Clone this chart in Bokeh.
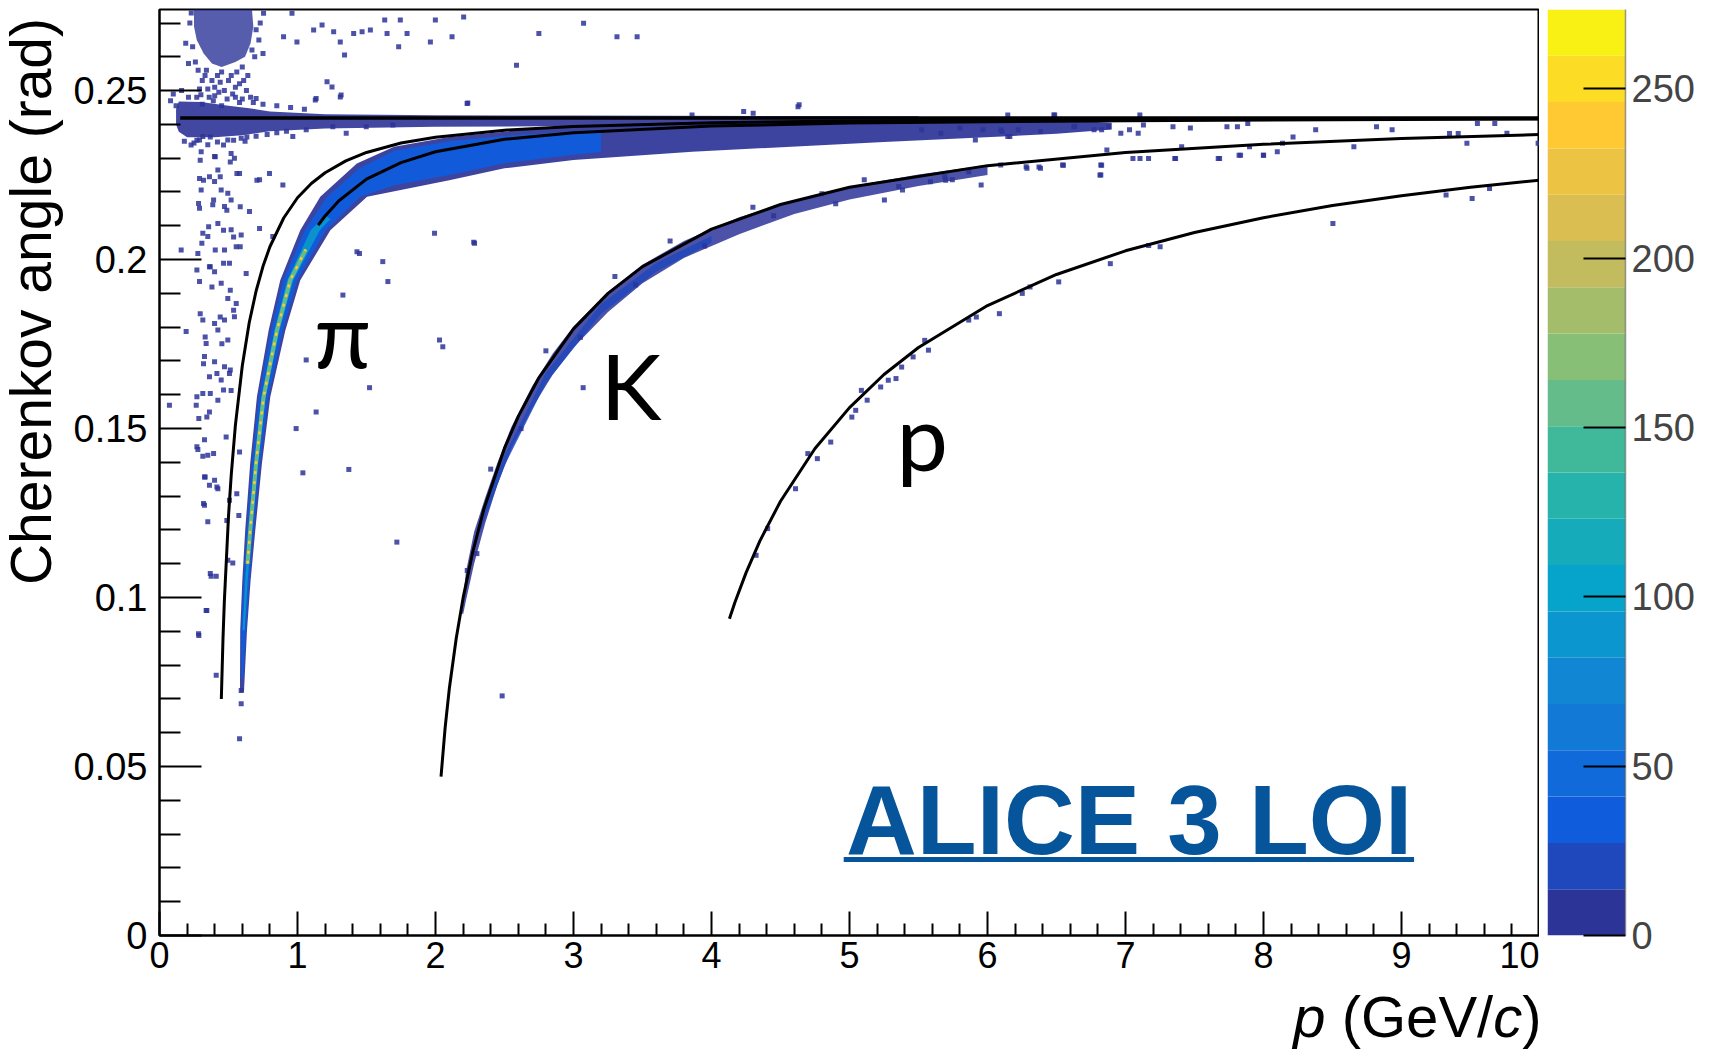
import math
from bokeh.plotting import figure
from bokeh.models import Range1d, FixedTicker
from bokeh.layouts import row, column
from bokeh.embed import file_html
from bokeh.resources import INLINE
from bokeh.core.properties import value

# ---------------- colour scale: 20 contour levels (ROOT "bird"), 0 .. 273.4 entries
cz_max = 273.4
palette = ["#2d3498", "#1e48bb", "#0f5cdd", "#116ada", "#1379d7", "#1187d3", "#0b96cf", "#06a4ca",
           "#16abba", "#26b3ab", "#40b99b", "#63bc89", "#87bf77", "#a4bd6b", "#c2bc5f", "#dabe51",
           "#ecc342", "#fec932", "#fcdc24", "#faf114"]
cz_ticks = [0, 50, 100, 150, 200, 250]

# ---------------- axes
x_major = [0, 1, 2, 3, 4, 5, 6, 7, 8, 9, 10]
x_minor = [0.2, 0.4, 0.6, 0.8, 1.2, 1.4, 1.6, 1.8, 2.2, 2.4, 2.6, 2.8, 3.2, 3.4, 3.6, 3.8,
           4.2, 4.4, 4.6, 4.8, 5.2, 5.4, 5.6, 5.8, 6.2, 6.4, 6.6, 6.8, 7.2, 7.4, 7.6, 7.8,
           8.2, 8.4, 8.6, 8.8, 9.2, 9.4, 9.6, 9.8]
y_major = [0, 0.05, 0.1, 0.15, 0.2, 0.25]
y_major_labels = ["0", "0.05", "0.1", "0.15", "0.2", "0.25"]
y_minor = [0.01, 0.02, 0.03, 0.04, 0.06, 0.07, 0.08, 0.09, 0.11, 0.12, 0.13, 0.14,
           0.16, 0.17, 0.18, 0.19, 0.21, 0.22, 0.23, 0.24, 0.26, 0.27]
x_title_parts = [("p", "italic"), ("(GeV/", "normal"), ("c", "italic"), (")", "normal")]
y_title = "Cherenkov angle (rad)"

# ---------------- expected Cherenkov-angle curves (black lines)
e_p = [0.15, 10.0]
e_theta = [0.2419, 0.2419]
mu_p = [0.448, 0.46, 0.47, 0.50, 0.52, 0.55, 0.60, 0.65, 0.70, 0.75, 0.80, 0.90, 1.0, 1.1, 1.2,
        1.35, 1.5, 1.75, 2.0, 2.5, 3.0, 4.0, 5.0, 7.0, 10.0]
mu_theta = [0.0700, 0.0877, 0.0990, 0.1241, 0.1364, 0.1510, 0.1686, 0.1813, 0.1907, 0.1980,
            0.2038, 0.2123, 0.2183, 0.2225, 0.2257, 0.2292, 0.2317, 0.2345, 0.2362, 0.2383,
            0.2394, 0.2405, 0.2410, 0.2415, 0.2417]
pi_p = [1.15, 1.2, 1.3, 1.5, 1.75, 2.0, 2.5, 3.0, 4.0, 5.0, 6.0, 7.0, 10.0]
pi_theta = [0.2102, 0.2129, 0.2174, 0.2238, 0.2287, 0.2319, 0.2356, 0.2375, 0.2395, 0.2404,
            0.2408, 0.2411, 0.2416]
k_p = [2.04, 2.07, 2.1, 2.15, 2.2, 2.27, 2.35, 2.5, 2.6, 2.75, 3.0, 3.25, 3.5, 4.0, 4.5, 5.0,
       6.0, 7.0, 8.0, 9.0, 10.0]
k_theta = [0.0470, 0.0616, 0.0730, 0.0879, 0.0999, 0.1135, 0.1261, 0.1442, 0.1536, 0.1651,
           0.1795, 0.1900, 0.1979, 0.2090, 0.2163, 0.2214, 0.2278, 0.2317, 0.2341, 0.2358, 0.2370]
pr_p = [4.13, 4.17, 4.25, 4.35, 4.5, 4.75, 5.0, 5.25, 5.5, 6.0, 6.5, 7.0, 7.5, 8.0, 8.5, 9.0,
        9.5, 10.0]
pr_theta = [0.0937, 0.0986, 0.1073, 0.1167, 0.1285, 0.1441, 0.1562, 0.1660, 0.1740, 0.1864,
            0.1956, 0.2026, 0.2080, 0.2124, 0.2160, 0.2189, 0.2214, 0.2235]

# ---------------- dense regions of the 2D histogram (outlines) + bin content
pi_outer_p = [0.583, 0.585, 0.600, 0.621, 0.657, 0.706, 0.791, 0.875, 1.020, 1.165, 1.430, 1.700,
              2.100, 2.800, 3.500, 4.500, 5.500, 6.500, 6.900,
              6.900, 6.500, 5.250, 3.860, 3.000, 2.500, 2.100, 1.504, 1.238, 1.020, 0.912, 0.803,
              0.742, 0.694, 0.660, 0.634, 0.612]
pi_outer_theta = [0.0720, 0.0903, 0.1050, 0.1199, 0.1396, 0.1594, 0.1791, 0.1939, 0.2087, 0.2186,
                  0.2284, 0.2334, 0.2363, 0.2390, 0.2403, 0.2410, 0.2413, 0.2413, 0.2405,
                  0.2385, 0.2372, 0.2348, 0.2319, 0.2295, 0.2270, 0.2235, 0.2186, 0.2087, 0.1939,
                  0.1791, 0.1594, 0.1396, 0.1199, 0.1050, 0.0903, 0.0720]
pi_outer_count = 12
pi_mid_p = [0.594, 0.5925, 0.609, 0.632, 0.670, 0.7205, 0.809, 0.897, 1.053, 1.215, 1.450, 1.700,
            2.100, 2.500, 3.000, 3.200,
            3.200, 3.000, 2.500, 2.100, 1.700, 1.454, 1.205, 0.998, 0.894, 0.7885, 0.729, 0.683,
            0.651, 0.6265, 0.606]
pi_mid_theta = [0.0760, 0.0903, 0.1050, 0.1199, 0.1396, 0.1594, 0.1791, 0.1939, 0.2087, 0.2186,
                0.2270, 0.2322, 0.2350, 0.2366, 0.2380, 0.2384,
                0.2318, 0.2310, 0.2285, 0.2250, 0.2220, 0.2186, 0.2087, 0.1939, 0.1791, 0.1594,
                0.1396, 0.1199, 0.1050, 0.0903, 0.0760]
pi_mid_count = 40
pi_core_p = [0.602, 0.621, 0.6465, 0.687, 0.740, 0.8335, 0.9255, 1.096, 1.200,
             1.240, 1.162, 0.9695, 0.8695, 0.769, 0.712, 0.6685, 0.639, 0.617]
pi_core_theta = [0.0903, 0.1050, 0.1199, 0.1396, 0.1594, 0.1791, 0.1939, 0.2087, 0.2130,
                 0.2120, 0.2087, 0.1939, 0.1791, 0.1594, 0.1396, 0.1199, 0.1050, 0.0903]
pi_core_count = 85
pi_peak_p = [0.638, 0.6575, 0.6995, 0.7545, 0.8515, 0.9475, 1.060]
pi_peak_theta = [0.1100, 0.1199, 0.1396, 0.1594, 0.1791, 0.1939, 0.2030]
pi_peak_count = 160
pi_top_count = 240

k_outer_p = [2.19, 2.22, 2.28, 2.36, 2.45, 2.55, 2.70, 2.85, 3.00, 3.25, 3.50, 3.80, 4.20, 4.60,
             5.00, 5.50, 6.00,
             6.00, 5.50, 5.00, 4.60, 4.20, 3.80, 3.50, 3.25, 3.00, 2.85, 2.70, 2.55, 2.45, 2.36,
             2.28, 2.22, 2.20]
k_outer_theta = [0.0955, 0.1075, 0.1195, 0.1295, 0.1400, 0.1505, 0.1625, 0.1722, 0.1802, 0.1905,
                 0.1985, 0.2055, 0.2125, 0.2175, 0.2216, 0.2252, 0.2280,
                 0.2250, 0.2218, 0.2178, 0.2135, 0.2075, 0.2005, 0.1930, 0.1845, 0.1740, 0.1660,
                 0.1560, 0.1440, 0.1335, 0.1220, 0.1100, 0.0990, 0.0950]
k_outer_count = 10
k_mid_p = [2.30, 2.50, 2.80, 3.20, 3.60, 4.00, 4.00, 3.60, 3.20, 2.80, 2.50, 2.32]
k_mid_theta = [0.1205, 0.1420, 0.1665, 0.1868, 0.1990, 0.2070, 0.2050, 0.1965, 0.1840, 0.1635,
               0.1390, 0.1190]
k_mid_count = 22

e_band_p = [0.12, 0.14, 0.30, 0.50, 0.65, 0.80, 1.20, 2.00, 3.00, 4.50, 5.50,
            5.50, 4.50, 3.00, 2.00, 1.20, 0.80, 0.60, 0.40, 0.20, 0.14, 0.12]
e_band_theta = [0.2445, 0.2468, 0.2466, 0.2455, 0.2448, 0.2438, 0.2430, 0.2427, 0.2426, 0.2425,
                0.2424,
                0.2405, 0.2400, 0.2395, 0.2393, 0.2388, 0.2380, 0.2368, 0.2362, 0.2362, 0.2378,
                0.2400]
e_band_count = 12

blob_p = [0.25, 0.67, 0.68, 0.66, 0.62, 0.55, 0.45, 0.38, 0.32, 0.27, 0.25]
blob_theta = [0.2740, 0.2740, 0.2690, 0.2640, 0.2600, 0.2585, 0.2570, 0.2580, 0.2610, 0.2650, 0.2690]
blob_count = 12

# ---------------- sparse bins (few entries)
dots = [
    # low-momentum column
    (0.290, 0.2354), (0.302, 0.2319), (0.399, 0.2305), (0.519, 0.2314), (0.290, 0.2240),
    (0.362, 0.2245), (0.423, 0.2265), (0.580, 0.2255), (0.399, 0.2231), (0.725, 0.2236),
    (0.797, 0.2255), (0.894, 0.2221), (0.302, 0.2206), (0.447, 0.2206), (0.495, 0.2196),
    (0.519, 0.2176), (0.290, 0.2152), (0.386, 0.2162), (0.471, 0.2157), (0.652, 0.2142),
    (0.314, 0.2078), (0.350, 0.2068), (0.423, 0.2107), (0.519, 0.2088), (0.592, 0.2073),
    (0.725, 0.2092), (0.821, 0.2068), (0.157, 0.2028), (0.278, 0.2018), (0.471, 0.2028),
    (0.556, 0.2038), (0.362, 0.1979), (0.399, 0.1964), (0.507, 0.1989), (0.628, 0.1959),
    (0.290, 0.1935), (0.447, 0.1930), (0.495, 0.1885), (0.556, 0.1870), (0.314, 0.1821),
    (0.399, 0.1811), (0.471, 0.1821), (0.543, 0.1831), (0.193, 0.1787), (0.338, 0.1752),
    (0.423, 0.1792), (0.495, 0.1762), (0.326, 0.1713), (0.399, 0.1698), (0.471, 0.1683),
    (0.362, 0.1653), (0.447, 0.1644), (0.507, 0.1663),
    (0.271, 0.2353), (0.368, 0.2363), (0.464, 0.2339), (0.537, 0.2353), (0.633, 0.2363),
    (0.295, 0.2294), (0.404, 0.2304), (0.513, 0.2289), (0.319, 0.2235), (0.440, 0.2245),
    (0.561, 0.2255), (0.706, 0.2235), (0.283, 0.2166), (0.392, 0.2176), (0.488, 0.2146),
    (0.585, 0.2156), (0.356, 0.2097), (0.464, 0.2087), (0.537, 0.2067), (0.307, 0.2048),
    (0.404, 0.2028), (0.585, 0.2038), (0.271, 0.1969), (0.368, 0.1979), (0.464, 0.1989),
    (0.380, 0.1919), (0.513, 0.1909), (0.295, 0.1840), (0.440, 0.1830), (0.537, 0.1850),
    (0.331, 0.1771), (0.452, 0.1751), (0.319, 0.1692), (0.416, 0.1663), (0.513, 0.1673),
    (0.271, 0.1594), (0.368, 0.1604), (0.464, 0.1614), (0.343, 0.1534), (0.271, 0.1446),
    (0.392, 0.1426), (0.331, 0.1357), (0.416, 0.1327), (0.319, 0.1278), (0.488, 0.1228),
    (0.368, 0.1071), (0.343, 0.0962), (0.283, 0.0893),
    (0.072, 0.1569), (0.266, 0.1569), (0.314, 0.1604), (0.362, 0.1549), (0.423, 0.1584),
    (0.519, 0.1613), (0.285, 0.1530), (0.483, 0.1475), (0.326, 0.1467), (0.278, 0.1438),
    (0.314, 0.1418), (0.350, 0.1421), (0.580, 0.1431), (0.326, 0.1357), (0.362, 0.1332),
    (0.399, 0.1347), (0.423, 0.1322), (0.560, 0.1307), (0.326, 0.1273), (0.507, 0.1288),
    (0.350, 0.1224), (0.575, 0.1243), (0.495, 0.1110), (0.531, 0.1102), (0.374, 0.1063),
    (0.411, 0.1063), (0.338, 0.0962), (0.285, 0.0888), (0.411, 0.0770),
    (0.580, 0.0582), (0.592, 0.0686), (0.592, 0.0725),
    # isolated entries in the middle
    (0.990, 0.1500), (1.135, 0.1549), (1.522, 0.1621), (1.039, 0.1369), (1.372, 0.1379),
    (1.720, 0.1164), (1.449, 0.2018), (1.618, 0.1994), (1.655, 0.1935), (1.329, 0.1895),
    (1.993, 0.2078), (2.283, 0.2048), (1.063, 0.1703), (2.029, 0.1762), (2.053, 0.1742),
    (2.277, 0.2051), (3.070, 0.1621), (2.483, 0.0709), (1.431, 0.2023),
    # above the saturation line
    (0.700, 0.2477), (1.135, 0.2477), (1.316, 0.2487), (2.234, 0.2463), (0.899, 0.2659),
    (0.996, 0.2644), (1.117, 0.2679), (1.178, 0.2694), (1.262, 0.2674), (1.310, 0.2644),
    (1.407, 0.2669), (1.468, 0.2674), (1.528, 0.2679), (1.649, 0.2669), (1.733, 0.2630),
    (1.794, 0.2669), (1.963, 0.2644), (1.999, 0.2709), (2.120, 0.2659), (2.204, 0.2718),
    (1.214, 0.2526), (1.250, 0.2511), (1.129, 0.2472), (1.310, 0.2481), (0.960, 0.2729),
    (0.754, 0.2729), (2.229, 0.2462), (1.632, 0.2709), (1.745, 0.2709), (2.749, 0.2669),
    (3.073, 0.2699), (3.315, 0.2659), (3.461, 0.2659), (2.587, 0.2575), (4.627, 0.2452),
    (1.341, 0.2605),
    # around the low-momentum blob
    (0.22, 0.2700), (0.24, 0.2630), (0.70, 0.2680), (0.72, 0.2650), (0.34, 0.2560),
    (0.42, 0.2545), (0.50, 0.2530), (0.56, 0.2555), (0.60, 0.2570), (0.47, 0.2500),
    (0.40, 0.2510), (0.31, 0.2530), (0.53, 0.2490), (0.36, 0.2480), (0.64, 0.2545),
    (0.69, 0.2600), (0.26, 0.2585), (0.45, 0.2555), (0.58, 0.2520), (0.67, 0.2620),
    (0.28, 0.2560), (0.33, 0.2545), (0.38, 0.2530), (0.44, 0.2525), (0.52, 0.2545),
    (0.61, 0.2530), (0.29, 0.2505), (0.35, 0.2505), (0.43, 0.2495), (0.55, 0.2510),
    (0.63, 0.2500), (0.27, 0.2480), (0.39, 0.2470), (0.49, 0.2475), (0.58, 0.2465),
    (0.66, 0.2480), (0.31, 0.2460), (0.45, 0.2455), (0.19, 0.2640), (0.21, 0.2580),
    (0.73, 0.2700), (0.75, 0.2610), (0.23, 0.2730),
    # around the electron line
    (0.08, 0.2470), (0.10, 0.2490), (0.12, 0.2455), (0.16, 0.2500), (0.21, 0.2480),
    (0.18, 0.2350), (0.25, 0.2345), (0.35, 0.2340), (0.42, 0.2348), (0.62, 0.2350),
    (0.70, 0.2365), (0.78, 0.2370), (0.85, 0.2375), (0.92, 0.2380), (0.60, 0.2475),
    (0.68, 0.2465), (0.75, 0.2460), (0.85, 0.2455), (0.95, 0.2450), (1.05, 0.2445),
    (0.55, 0.2480), (0.40, 0.2485), (0.30, 0.2488),
    (0.966, 0.2364), (1.063, 0.2384), (1.256, 0.2393), (1.353, 0.2374), (1.498, 0.2393),
    (1.691, 0.2398), (0.592, 0.2359), (0.495, 0.2354), (0.314, 0.2364), (0.229, 0.2339),
    (0.543, 0.2300), (3.859, 0.2428), (4.233, 0.2438), (4.302, 0.2433), (4.635, 0.2458),
    (6.147, 0.2428), (6.481, 0.2428),
    (5.523, 0.2384), (5.662, 0.2374), (5.801, 0.2389), (5.912, 0.2354), (5.967, 0.2384),
    (6.106, 0.2379), (6.162, 0.2364), (6.384, 0.2379), (6.633, 0.2394), (6.772, 0.2384),
    (6.096, 0.2384), (6.147, 0.2364), (6.223, 0.2384), (6.487, 0.2428), (6.626, 0.2393),
    (6.827, 0.2384), (6.878, 0.2393), (6.966, 0.2374), (7.029, 0.2384), (7.092, 0.2374),
    (7.104, 0.2428), (7.130, 0.2398), (7.344, 0.2393), (7.470, 0.2389), (7.735, 0.2393),
    (7.811, 0.2393), (7.886, 0.2403), (8.378, 0.2384), (8.819, 0.2393), (8.932, 0.2384),
    (9.550, 0.2403), (9.676, 0.2403), (9.764, 0.2374),
    # kaons
    (6.096, 0.2280), (6.286, 0.2270), (6.373, 0.2274), (6.550, 0.2279), (6.827, 0.2279),
    (6.815, 0.2250), (6.865, 0.2324), (7.054, 0.2299), (7.105, 0.2299), (7.167, 0.2299),
    (7.357, 0.2299), (7.407, 0.2334), (7.672, 0.2299), (7.823, 0.2309), (7.899, 0.2334),
    (7.999, 0.2309), (8.100, 0.2319), (8.138, 0.2344), (8.214, 0.2363), (8.655, 0.2334),
    (9.348, 0.2373), (9.411, 0.2373), (9.474, 0.2344), (9.990, 0.2344),
    (5.107, 0.2236), (5.357, 0.2216), (5.384, 0.2206), (5.690, 0.2245), (5.745, 0.2236),
    (5.954, 0.2221), (6.384, 0.2270), (5.253, 0.2176), (5.586, 0.2230), (5.697, 0.2235),
    (5.864, 0.2260), (6.280, 0.2275), (6.544, 0.2280), (6.821, 0.2250), (6.821, 0.2280),
    (7.363, 0.2299), (7.682, 0.2299), (7.834, 0.2309), (8.001, 0.2309),
    (2.23, 0.1080), (2.30, 0.1130), (2.40, 0.1380), (2.62, 0.1500), (2.80, 0.1730),
    (3.05, 0.1770), (3.30, 0.1950), (3.45, 0.1925), (3.70, 0.2055), (3.95, 0.2040),
    (4.30, 0.2155), (4.45, 0.2130), (4.80, 0.2195), (4.90, 0.2165),
    # protons
    (4.323, 0.1125), (4.407, 0.1204), (4.609, 0.1322), (4.698, 0.1426), (4.767, 0.1411),
    (4.864, 0.1460), (5.017, 0.1534), (5.045, 0.1554), (5.086, 0.1613), (5.128, 0.1584),
    (5.226, 0.1623), (5.281, 0.1643), (5.337, 0.1648), (5.378, 0.1682), (5.461, 0.1712),
    (5.572, 0.1732), (5.545, 0.1761), (5.864, 0.1821), (5.919, 0.1830), (6.086, 0.1840),
    (6.252, 0.1900), (6.308, 0.1919), (6.516, 0.1934), (6.890, 0.1988), (7.168, 0.2042),
    (7.251, 0.2038), (8.503, 0.2107), (9.323, 0.2191), (9.512, 0.2181), (9.638, 0.2210),
]
dots_p = [d[0] for d in dots]
dots_theta = [d[1] for d in dots]
dots_count = 4

# ---------------- annotation texts (positions = glyph baseline / left edge)
particle_names = ["\u03c0", "K", "p"]
particle_x = [1.122, 3.196, 5.34]
particle_base = [0.1679, 0.1525, 0.1375]
stamp_text = "ALICE 3 LOI"
stamp_x, stamp_base = 4.975, 0.02427


def level_color(count):
    i = int(count / (cz_max / len(palette)))
    return palette[max(0, min(len(palette) - 1, i))]


FONT = "Liberation Sans"
LIB_MID = 0.3465      # em-box centre above baseline, Liberation Sans
LATO_MID = 0.387      # em-box centre above baseline, Lato

# ---------------- page geometry (pixels)
FRAME_W, FRAME_H = 1380, 926
TOP, BOTTOM = 9, 48
YT_W = 70
LEFT = 89
CB_W = 158
XT_H = 66
H = TOP + FRAME_H + BOTTOM
PX_PER_THETA = FRAME_H / 0.274

# ================= main panel
p = figure(width=LEFT + FRAME_W, height=H, x_range=Range1d(0, 10), y_range=Range1d(0, 0.274),
           output_backend="svg", toolbar_location=None,
           min_border_left=LEFT, min_border_right=0, min_border_top=TOP, min_border_bottom=BOTTOM,
           background_fill_color="white", border_fill_color="white")
p.grid.visible = False
p.outline_line_color = "black"
p.outline_line_width = 2

for ax in (p.xaxis[0], p.yaxis[0]):
    ax.axis_line_width = 2
    ax.major_tick_out = 0
    ax.minor_tick_out = 0
    ax.major_tick_line_width = 2
    ax.minor_tick_line_width = 2
    ax.major_label_text_font = FONT
    ax.major_label_text_color = "black"

p.xaxis.ticker = FixedTicker(ticks=x_major, minor_ticks=x_minor)
p.xaxis.major_tick_in = 24
p.xaxis.minor_tick_in = 12
p.xaxis.major_label_text_font_size = "36px"
p.xaxis.major_label_standoff = 6

p.yaxis.ticker = FixedTicker(ticks=y_major, minor_ticks=y_minor)
p.yaxis.major_label_overrides = dict(zip(y_major, y_major_labels))
p.yaxis.major_tick_in = 42
p.yaxis.minor_tick_in = 21
p.yaxis.major_label_text_font_size = "38px"
p.yaxis.major_label_standoff = 12

# dense regions
for xs, ys, c, a in [(e_band_p, e_band_theta, e_band_count, 0.9), (blob_p, blob_theta, blob_count, 0.8),
                     (pi_outer_p, pi_outer_theta, pi_outer_count, 0.92),
                     (pi_mid_p, pi_mid_theta, pi_mid_count, 0.95),
                     (pi_core_p, pi_core_theta, pi_core_count, 0.95),
                     (k_outer_p, k_outer_theta, k_outer_count, 0.85),
                     (k_mid_p, k_mid_theta, k_mid_count, 0.85)]:
    p.patch(xs, ys, fill_color=level_color(c), fill_alpha=a, line_color=None)
p.line(pi_peak_p, pi_peak_theta, line_color=level_color(pi_peak_count), line_width=4)
p.line(pi_peak_p, pi_peak_theta, line_color=level_color(pi_top_count), line_width=2.5,
       line_dash="3 7")

# sparse bins
p.scatter(dots_p, dots_theta, marker="square", size=5, fill_color=level_color(dots_count),
          line_color=None, fill_alpha=0.85)

# expected curves
for xs, ys, w in [(e_p, e_theta, 3.5), (mu_p, mu_theta, 3), (pi_p, pi_theta, 3),
                  (k_p, k_theta, 3), (pr_p, pr_theta, 3)]:
    p.line(xs, ys, line_color="black", line_width=w)

# particle labels
fs_part = 92
p.text(x=particle_x, y=[b + LATO_MID * fs_part / PX_PER_THETA for b in particle_base],
       text=particle_names, text_font=value("Lato"), text_font_size=f"{fs_part}px",
       text_color="black", text_align="left", text_baseline="middle")

# ALICE 3 LOI stamp, underlined
blue = "#06559a"
fs_stamp = 98
p.text(x=[stamp_x], y=[stamp_base + LIB_MID * fs_stamp / PX_PER_THETA], text=[stamp_text],
       text_font=value(FONT), text_font_size=f"{fs_stamp}px", text_font_style="bold",
       text_color=blue, text_align="left", text_baseline="middle")
p.segment(x0=[stamp_x - 0.017], y0=[stamp_base - 6 / PX_PER_THETA],
          x1=[stamp_x + 4.116], y1=[stamp_base - 6 / PX_PER_THETA], line_color=blue, line_width=5)

# ================= y-axis title (own strip, ROOT style: aligned to top end)
fs_t = 57
yt = figure(width=YT_W, height=H, x_range=Range1d(0, YT_W), y_range=Range1d(0, H),
            output_backend="svg", toolbar_location=None, x_axis_location=None,
            y_axis_location=None, min_border=0, outline_line_color=None,
            background_fill_color="white", border_fill_color="white")
yt.grid.visible = False
yt.text(x=[50 - LIB_MID * fs_t], y=[H - 9], text=[y_title], angle=math.pi / 2,
        text_font=value(FONT), text_font_size=f"{fs_t}px", text_color="black",
        text_align="right", text_baseline="middle")

# ================= colour bar
cz_levels = [i * cz_max / len(palette) for i in range(len(palette) + 1)]
cb = figure(width=CB_W, height=H, x_range=Range1d(0, 1), y_range=Range1d(0, cz_max),
            output_backend="svg", toolbar_location=None, y_axis_location="right",
            min_border_left=8, min_border_right=70, min_border_top=TOP, min_border_bottom=BOTTOM,
            background_fill_color="white", border_fill_color="white")
cb.grid.visible = False
cb.outline_line_color = None
cb.xaxis.visible = False
cb.quad(left=0, right=1, bottom=cz_levels[:-1], top=cz_levels[1:], fill_color=palette,
        line_color=None)
cb.yaxis.ticker = FixedTicker(ticks=cz_ticks, minor_ticks=[])
cb.yaxis.axis_line_color = "#555555"
cb.yaxis.axis_line_width = 1.5
cb.yaxis.axis_line_alpha = 0.6
cb.yaxis.major_tick_in = 42
cb.yaxis.major_tick_out = 0
cb.yaxis.minor_tick_in = 0
cb.yaxis.minor_tick_out = 0
cb.yaxis.major_tick_line_width = 2
cb.yaxis.major_label_text_font = FONT
cb.yaxis.major_label_text_font_size = "38px"
cb.yaxis.major_label_standoff = 6

# ================= x-axis title (own strip, right-aligned to the axis end)
TOTAL_W = YT_W + LEFT + FRAME_W + CB_W
fs_x = 58
adv = [0.834, 2.612, 0.5, 0.333]     # advance widths (em) of the four pieces incl. gaps
xt = figure(width=TOTAL_W, height=XT_H, x_range=Range1d(0, TOTAL_W), y_range=Range1d(0, XT_H),
            output_backend="svg", toolbar_location=None, x_axis_location=None,
            y_axis_location=None, min_border=0, outline_line_color=None,
            background_fill_color="white", border_fill_color="white")
xt.grid.visible = False
x_end = 1541
x_cur = x_end - sum(adv) * fs_x
base_y = XT_H - (1036 - H)
for (txt, style), a in zip(x_title_parts, adv):
    xt.text(x=[x_cur], y=[base_y + LIB_MID * fs_x], text=[txt], text_font=value(FONT),
            text_font_size=f"{fs_x}px", text_font_style=style, text_color="black",
            text_align="left", text_baseline="middle")
    x_cur += a * fs_x

layout = column(row(yt, p, cb), xt)
open("out.html", "w").write(file_html(layout, INLINE))
